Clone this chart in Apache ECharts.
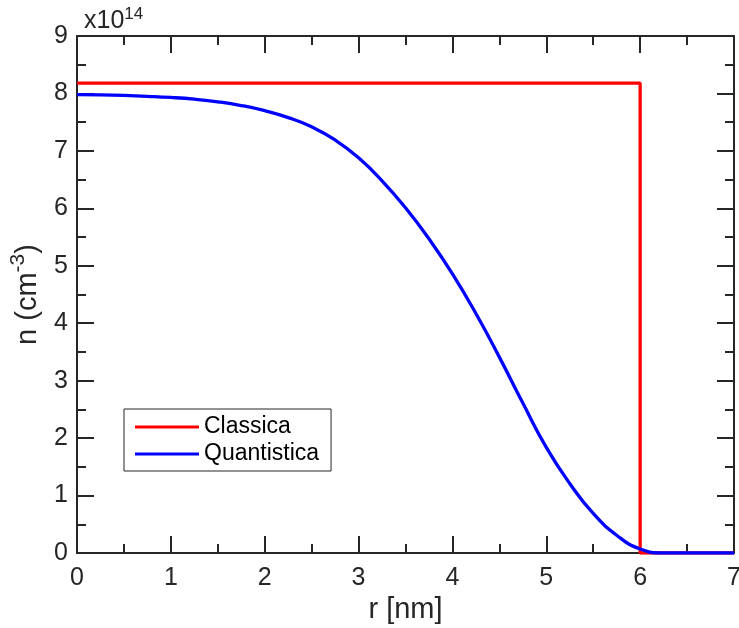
<!DOCTYPE html>
<html>
<head>
<meta charset="utf-8">
<script src="https://cdn.jsdelivr.net/npm/echarts@6/dist/echarts.min.js"></script>
<style>html,body{margin:0;padding:0;background:#fff}#c{width:739px;height:628px}</style>
</head>
<body>
<div id="c"></div>
<script>
// data (units: r in nm, n in 1e14 cm^-3)
const classicaR = [0, 6, 6, 7];
const classicaN = [8.18, 8.18, 0, 0];
const quantR = [0, 0.25, 0.5, 0.75, 1.0, 1.25, 1.5, 1.75, 2.0, 2.25, 2.5, 2.75, 3.0, 3.25, 3.5, 3.75, 4.0, 4.25, 4.5, 4.75, 5.0, 5.25, 5.5, 5.75, 6.0, 6.25, 6.5, 6.75, 7.0];
const quantN = [7.98, 7.975, 7.965, 7.95, 7.93, 7.90, 7.855, 7.79, 7.70, 7.58, 7.42, 7.19, 6.88, 6.48, 6.01, 5.47, 4.86, 4.17, 3.41, 2.61, 1.84, 1.21, 0.69, 0.31, 0.07, 0.0, 0.0, 0.0, 0.0];
const xTicks = [0, 1, 2, 3, 4, 5, 6, 7];
const yTicks = [0, 1, 2, 3, 4, 5, 6, 7, 8, 9];

const axisColor = '#262626';
const font = 'Liberation Sans, Arial, sans-serif';

function baseAxis(extra) {
  return Object.assign({
    type: 'value',
    interval: 1,
    axisLine: { show: true, onZero: false, lineStyle: { color: axisColor, width: 2 } },
    axisTick: { show: true, inside: true, length: 17, lineStyle: { color: axisColor, width: 2 } },
    minorTick: { show: true, splitNumber: 2, length: 9, lineStyle: { color: axisColor, width: 2 } },
    splitLine: { show: false },
    minorSplitLine: { show: false },
    axisLabel: { color: axisColor, fontFamily: font, fontSize: 25 }
  }, extra);
}

const chart = echarts.init(document.getElementById('c'), null, { renderer: 'canvas' });
chart.setOption({
  animation: false,
  backgroundColor: '#fff',
  grid: { left: 77, right: 5, top: 36, bottom: 75, containLabel: false, outerBoundsMode: 'none' },
  xAxis: [
    baseAxis({ min: xTicks[0], max: xTicks[xTicks.length - 1], position: 'bottom',
      name: 'r [nm]', nameLocation: 'middle', nameGap: 37,
      nameTextStyle: { color: axisColor, fontFamily: font, fontSize: 29 },
      axisLabel: { color: axisColor, fontFamily: font, fontSize: 25, margin: 13 } }),
    baseAxis({ min: xTicks[0], max: xTicks[xTicks.length - 1], position: 'top',
      axisLabel: { show: false } })
  ],
  yAxis: [
    baseAxis({ min: yTicks[0], max: yTicks[yTicks.length - 1], position: 'left',
      name: '{m|n (cm}{s|-3}{m|)}', nameLocation: 'middle', nameGap: 22, nameRotate: 90,
      nameTextStyle: { color: axisColor, fontFamily: font, fontSize: 29,
        rich: {
          m: { fontFamily: font, fontSize: 29, color: axisColor, verticalAlign: 'bottom', lineHeight: 34 },
          s: { fontFamily: font, fontSize: 21, color: axisColor, verticalAlign: 'top', lineHeight: 34, padding: [0, 0, 14, 0] }
        } },
      axisLabel: { color: axisColor, fontFamily: font, fontSize: 25, margin: 9 } }),
    baseAxis({ min: yTicks[0], max: yTicks[yTicks.length - 1], position: 'right',
      axisLabel: { show: false } })
  ],
  legend: {
    left: 124, top: 409,
    orient: 'vertical',
    icon: 'rect',
    itemWidth: 64, itemHeight: 3,
    itemGap: 3,
    padding: [6, 12, 5, 11],
    borderColor: axisColor, borderWidth: 1,
    backgroundColor: '#fff',
    textStyle: { color: '#000', fontFamily: font, fontSize: 23, lineHeight: 24, padding: [0, 0, 0, 0] },
    data: ['Classica', 'Quantistica']
  },
  graphic: [{
    type: 'text', left: 84, top: 6,
    style: {
      text: '{b|x10}{s|14}',
      rich: {
        b: { fontFamily: font, fontSize: 25, fill: axisColor, verticalAlign: 'bottom', lineHeight: 28 },
        s: { fontFamily: font, fontSize: 17, fill: axisColor, verticalAlign: 'top', lineHeight: 28, padding: [0, 0, 10, 0] }
      }
    }
  }],
  series: [
    {
      name: 'Classica', type: 'line', symbol: 'none', xAxisIndex: 0, yAxisIndex: 0,
      lineStyle: { color: '#ff0000', width: 3.3 }, itemStyle: { color: '#ff0000' },
      data: classicaR.map((r, i) => [r, classicaN[i]]), z: 3
    },
    {
      name: 'Quantistica', type: 'line', symbol: 'none', smooth: 0.5, xAxisIndex: 0, yAxisIndex: 0,
      lineStyle: { color: '#0000ff', width: 3.3 }, itemStyle: { color: '#0000ff' },
      data: quantR.map((r, i) => [r, quantN[i]]), z: 4
    }
  ]
});
</script>
</body>
</html>
